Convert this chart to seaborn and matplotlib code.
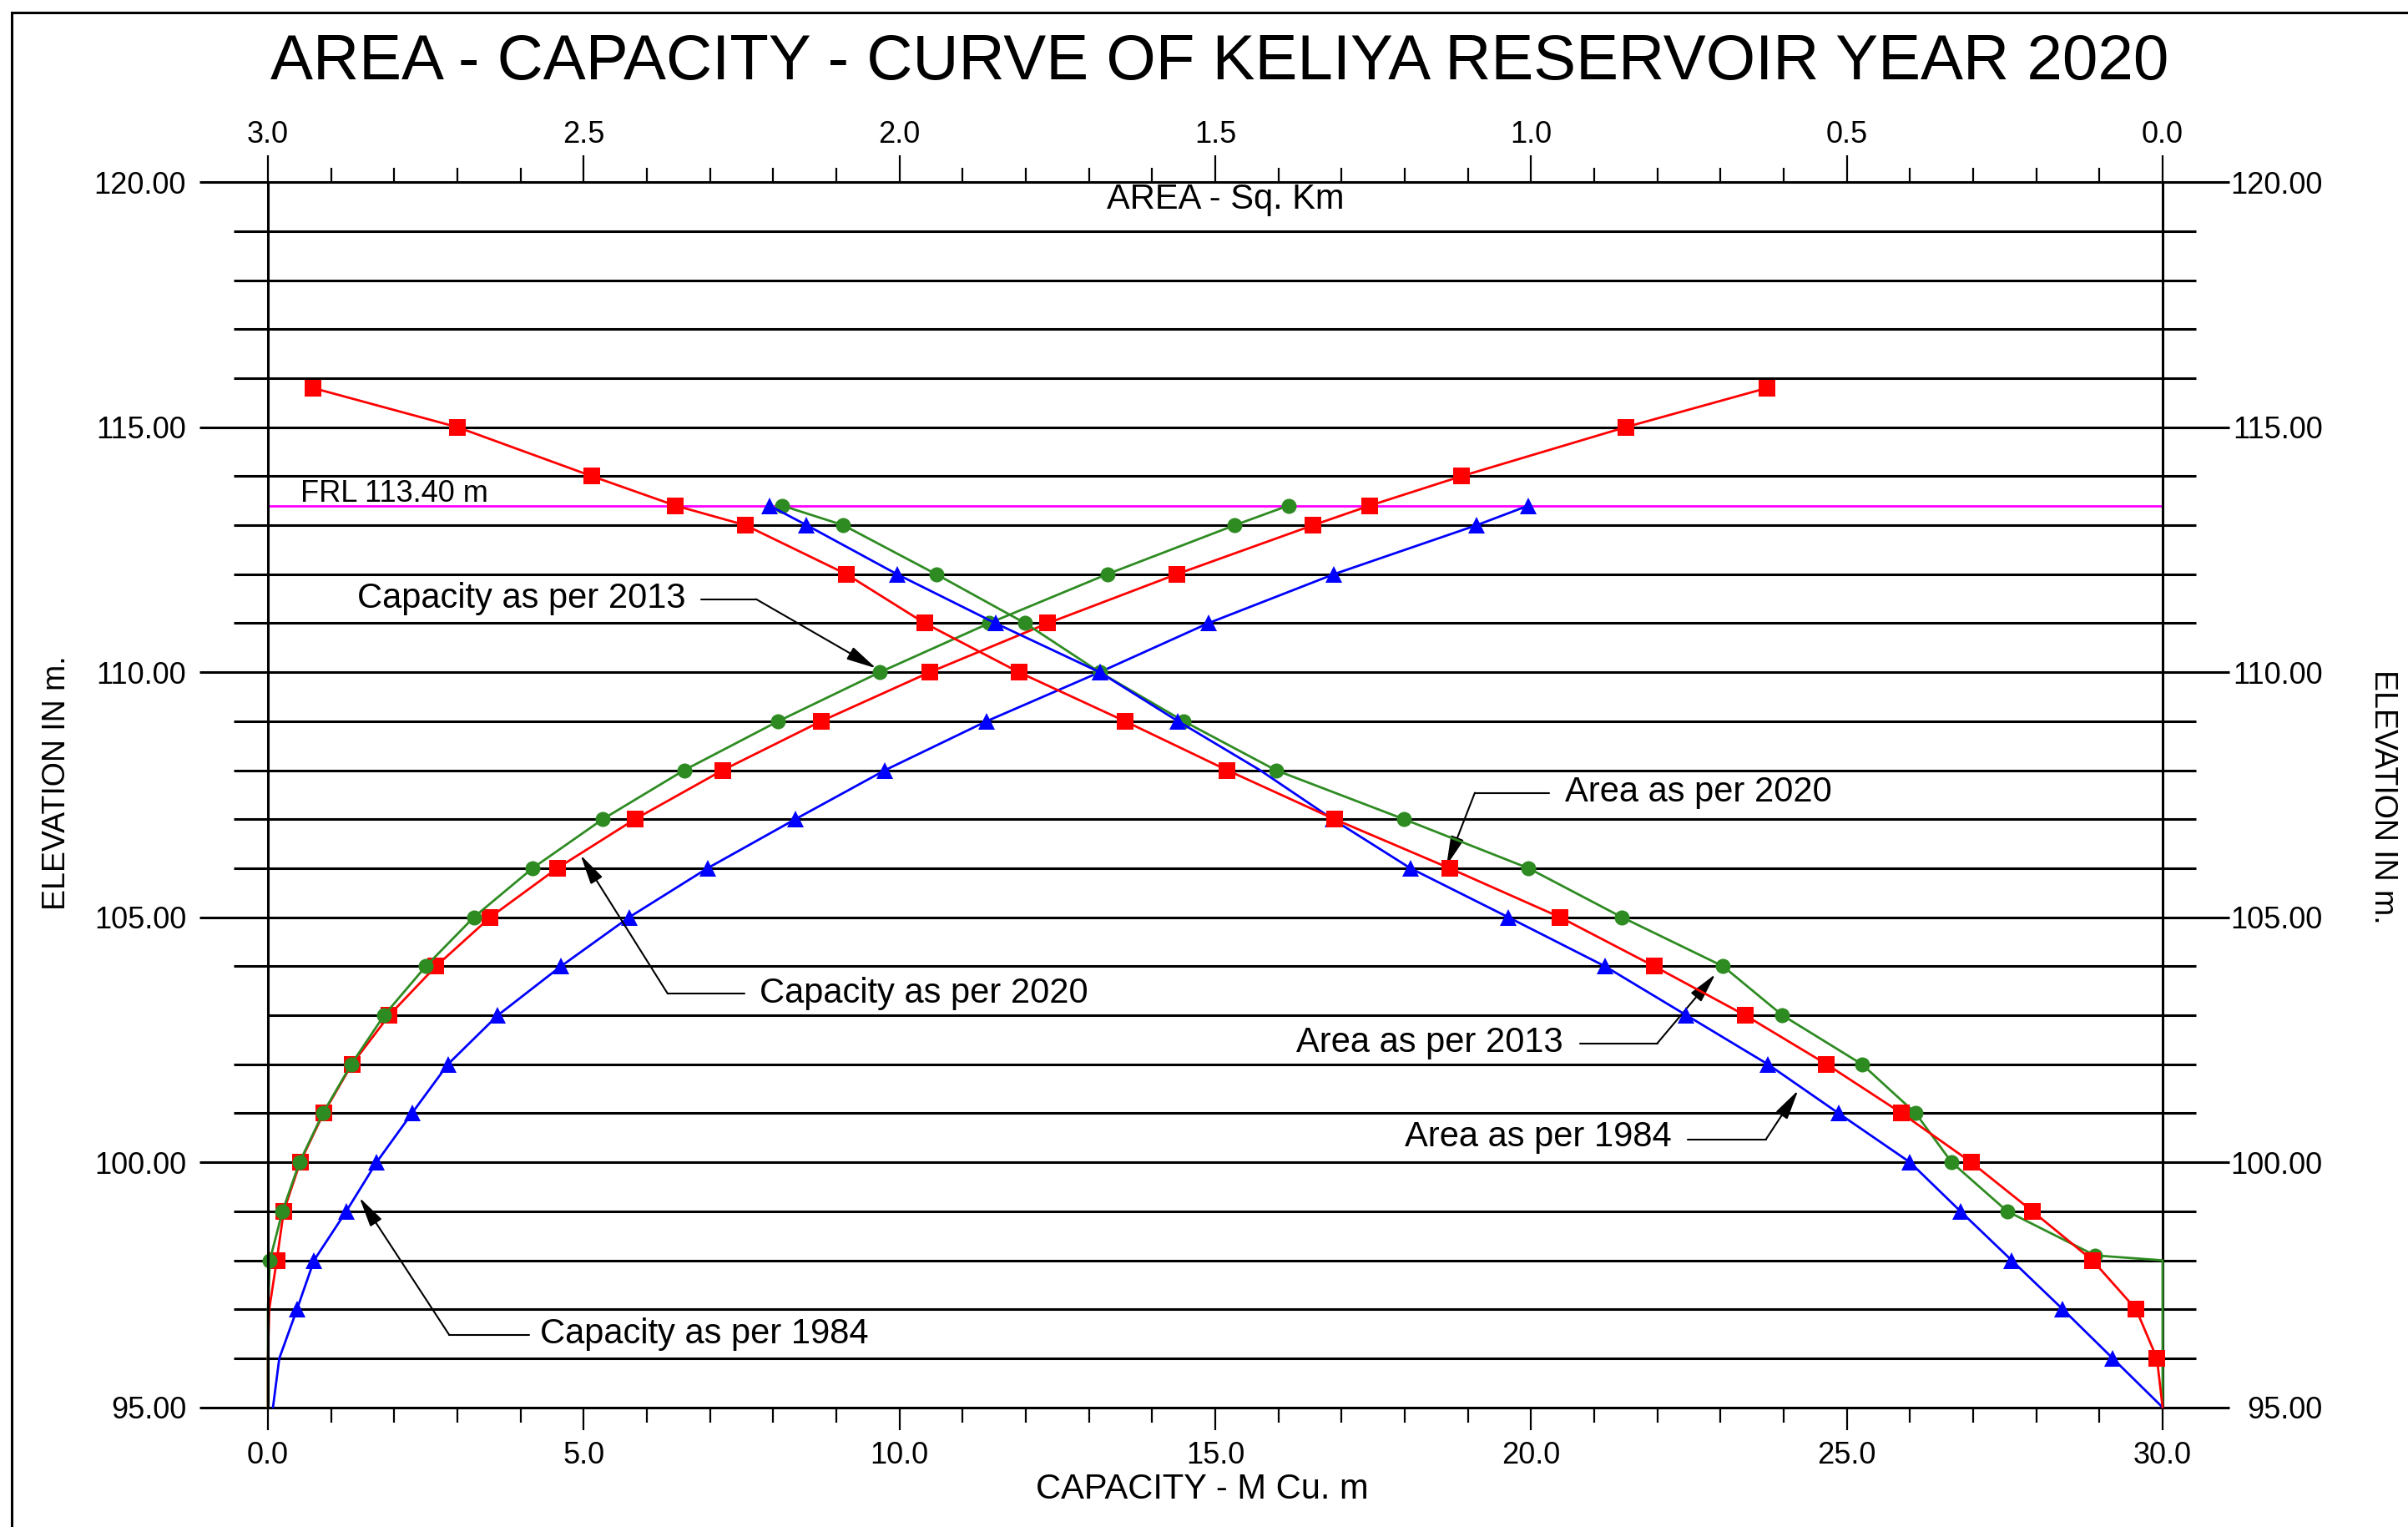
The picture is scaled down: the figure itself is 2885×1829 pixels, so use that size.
import matplotlib
matplotlib.use("Agg")
import matplotlib.pyplot as plt
from matplotlib.patches import Rectangle
from matplotlib.ticker import MultipleLocator, FormatStrFormatter
import pandas as pd
import seaborn as sns

# ---------------------------------------------------------------- data
# 2020 survey (elevation in m, capacity in M cu. m, area in sq. km)
elev_2020 = [95, 96, 97, 98, 99, 100, 101, 102, 103, 104, 105, 106, 107,
             108, 109, 110, 111, 112, 113, 113.4, 114, 115, 115.8]
cap_2020 = [0.00, 0.00, 0.02, 0.14, 0.25, 0.51, 0.88, 1.33, 1.92, 2.66, 3.52,
            4.58, 5.81, 7.20, 8.76, 10.48, 12.35, 14.39, 16.55, 17.45, 18.90,
            21.50, 23.74]
area_2020 = [0.000, 0.009, 0.042, 0.111, 0.206, 0.303, 0.413, 0.532, 0.661,
             0.805, 0.954, 1.129, 1.311, 1.481, 1.643, 1.811, 1.960, 2.084,
             2.244, 2.355, 2.487, 2.700, 2.929]

# 2013 survey
elev_2013 = [95, 96, 97, 98, 99, 100, 101, 102, 103, 104, 105, 106, 107,
             108, 109, 110, 111, 112, 113, 113.4]
cap_2013 = [0.00, 0.00, 0.00, 0.03, 0.23, 0.50, 0.87, 1.32, 1.84, 2.50, 3.26,
            4.19, 5.30, 6.59, 8.08, 9.69, 11.42, 13.29, 15.31, 16.16]
elev_2013_area = [95, 96, 97, 98, 98.1, 99, 100, 101, 102, 103, 104, 105,
                  106, 107, 108, 109, 110, 111, 112, 113, 113.4]
area_2013 = [0.000, 0.000, 0.000, 0.000, 0.107, 0.246, 0.334, 0.391, 0.476,
             0.602, 0.696, 0.856, 1.004, 1.201, 1.404, 1.550, 1.683, 1.801,
             1.942, 2.089, 2.186]

# 1984 survey
elev_1984 = [95, 96, 97, 98, 99, 100, 101, 102, 103, 104, 105, 106, 107,
             108, 109, 110, 111, 112, 113, 113.4]
cap_1984 = [0.08, 0.18, 0.46, 0.73, 1.24, 1.72, 2.28, 2.85, 3.64, 4.64, 5.72,
            6.96, 8.35, 9.77, 11.38, 13.17, 14.89, 16.88, 19.14, 19.96]
area_1984 = [0.000, 0.079, 0.158, 0.239, 0.320, 0.400, 0.513, 0.625, 0.754,
             0.883, 1.036, 1.191, 1.314, 1.429, 1.559, 1.683, 1.848, 2.004,
             2.147, 2.206]

frl = 113.40
elev_ticks = [95, 100, 105, 110, 115, 120]
cap_ticks = [0, 5, 10, 15, 20, 25, 30]
area_ticks = [3.0, 2.5, 2.0, 1.5, 1.0, 0.5, 0.0]

title = "AREA - CAPACITY - CURVE OF KELIYA RESERVOIR YEAR 2020"

# ---------------------------------------------------------------- style
sns.set_theme(style="white")
plt.rcParams["font.family"] = ["Liberation Sans", "DejaVu Sans"]
plt.rcParams.update({
    "axes.edgecolor": "black",
    "xtick.color": "black",
    "ytick.color": "black",
    "text.color": "black",
    "axes.labelcolor": "black",
})

RED, GREEN, BLUE, MAGENTA = "#ff0000", "#2e8b22", "#0000ff", "#ff00ff"
W, H, DPI = 2885, 1829, 100
GRID_LW = 2.2

fig = plt.figure(figsize=(W / DPI, H / DPI), dpi=DPI)
fig.subplots_adjust(left=321 / W, right=2591 / W,
                    bottom=1 - 1685.7 / H, top=1 - 218.1 / H)
ax = fig.add_subplot(111)
ax_top = ax.twiny()
ax_r = ax.twinx()

ylo, yhi = 95, 120
xlo, xhi = 0, 30

# horizontal level lines, labelled levels run out to the tick labels
levels = list(range(ylo, yhi + 1))
xmins, xmaxs = [], []
for lv in levels:
    if lv % 5 == 0:
        xmins.append(-1.09)
        xmaxs.append(31.06)
    else:
        xmins.append(0.0 if lv == 103 else -0.54)
        xmaxs.append(30.53)
ax.hlines(levels, xmins, xmaxs, colors="black", linewidth=GRID_LW,
          clip_on=False, zorder=1)

# full reservoir level
ax.hlines(frl, xlo, xhi, colors=MAGENTA, linewidth=2.0, zorder=1.5)
ax.text(0.52, frl + 0.08, f"FRL {frl:.2f} m", fontsize=26,
        ha="left", va="baseline")


def curve(target, x, y, color, marker, ms, marks):
    df = pd.DataFrame({"x": x, "y": y})
    sns.lineplot(data=df, x="x", y="y", ax=target, sort=False,
                 estimator=None, errorbar=None, color=color, linewidth=2.0,
                 marker=marker, markersize=ms, markevery=marks,
                 markeredgewidth=0, clip_on=False, legend=False)


def marks_from(elev, start, skip=()):
    return [i for i, e in enumerate(elev) if e >= start and e not in skip]


SQ, CI, TR = 14, 13, 14

# capacity curves (bottom axis)
curve(ax, cap_1984, elev_1984, BLUE, "^", TR, marks_from(elev_1984, 97))
curve(ax, cap_2020, elev_2020, RED, "s", SQ, marks_from(elev_2020, 98))
curve(ax, cap_2013, elev_2013, GREEN, "o", CI, marks_from(elev_2013, 98))

# area curves (top axis, reversed)
curve(ax_top, area_2013, elev_2013_area, GREEN, "o", CI,
      marks_from(elev_2013_area, 98.1))
curve(ax_top, area_1984, elev_1984, BLUE, "^", TR,
      marks_from(elev_1984, 96, skip=(108,)))
curve(ax_top, area_2020, elev_2020, RED, "s", SQ, marks_from(elev_2020, 96))

# ---------------------------------------------------------------- axes
ax.set_xlim(xlo, xhi)
ax.set_ylim(ylo, yhi)
ax_top.set_xlim(3.0, 0.0)
ax_r.set_ylim(ylo, yhi)

for a in (ax, ax_top, ax_r):
    a.set_xlabel("")
    a.set_ylabel("")
    a.grid(False)
    for s in a.spines.values():
        s.set_visible(False)
for side in ("left", "right"):
    ax.spines[side].set_visible(True)
    ax.spines[side].set_linewidth(GRID_LW)

# bottom capacity ticks
ax.set_xticks(cap_ticks)
ax.xaxis.set_minor_locator(MultipleLocator(1))
ax.xaxis.set_major_formatter(FormatStrFormatter("%.1f"))
ax.tick_params(axis="x", which="major", direction="out", bottom=True,
               length=19.7, width=1.6, pad=9, labelsize=26)
ax.tick_params(axis="x", which="minor", direction="out", bottom=True,
               length=12.8, width=1.6)

# top area ticks
ax_top.set_xticks(area_ticks)
ax_top.xaxis.set_minor_locator(MultipleLocator(0.1))
ax_top.xaxis.set_major_formatter(FormatStrFormatter("%.1f"))
ax_top.tick_params(axis="x", which="major", direction="out", top=True,
                   length=23, width=1.6, pad=5, labelsize=26)
ax_top.tick_params(axis="x", which="minor", direction="out", top=True,
                   length=12, width=1.6)

# elevation labels on both sides
ax.set_yticks(elev_ticks)
ax.set_yticklabels([f"{v:.2f}" for v in elev_ticks])
ax.tick_params(axis="y", length=0, pad=70.5, labelsize=26, left=False)
ax_r.set_yticks(elev_ticks)
ax_r.set_yticklabels([f"{v:.2f}" for v in elev_ticks])
ax_r.tick_params(axis="y", length=0, pad=138, labelsize=26, right=False)
for lab in ax_r.get_yticklabels():
    lab.set_horizontalalignment("right")

# axis titles
ax.text(15.16, 119.45, "AREA - Sq. Km", fontsize=30, ha="center",
        va="baseline")
fig.text((321 + 14.79 * 75.67) / W, 0.0185, "CAPACITY - M Cu. m",
         fontsize=30, ha="center", va="baseline")
fig.text(0.0236, 0.4874, "ELEVATION IN m.", fontsize=27, rotation=90,
         ha="center", va="center")
fig.text(0.9896, 0.4784, "ELEVATION IN m.", fontsize=27, rotation=270,
         ha="center", va="center")
fig.text(0.5064, 0.948, title, fontsize=55, ha="center", va="baseline")

# ---------------------------------------------------------------- callouts
# (label, text x, text baseline, alignment, leader x0, leader x1, leader y,
#  elbow x, arrow tip)
callouts = [
    ("Capacity as per 2013", 6.61, 111.31, "right", 6.86, 7.73, 111.49,
     7.73, (9.63, 110.08)),
    ("Capacity as per 2020", 7.79, 103.26, "left", 6.33, 7.55, 103.44,
     6.33, (4.95, 106.27)),
    ("Capacity as per 1984", 4.31, 96.31, "left", 2.87, 4.13, 96.48,
     2.87, (1.45, 99.28)),
    ("Area as per 2020", 20.54, 107.36, "left", 19.11, 20.29, 107.54,
     19.11, (18.66, 106.05)),
    ("Area as per 2013", 20.51, 102.25, "right", 20.78, 22.00, 102.43,
     22.00, (22.92, 103.84)),
    ("Area as per 1984", 22.22, 100.33, "right", 22.48, 23.72, 100.47,
     23.72, (24.23, 101.47)),
]
for (label, tx, ty, ha, lx0, lx1, ly, ex, tip) in callouts:
    ax.text(tx, ty, label, fontsize=30, ha=ha, va="baseline", zorder=6)
    ax.plot([lx0, lx1], [ly, ly], color="black", linewidth=1.5, zorder=6)
    ax.annotate("", xy=tip, xytext=(ex, ly),
                arrowprops=dict(arrowstyle="-|>,head_length=1.1,head_width=0.25",
                                mutation_scale=20, color="black",
                                linewidth=1.5, shrinkA=0, shrinkB=0),
                zorder=6)

# outer drawing frame
fig.add_artist(Rectangle((14 / W, -0.1), 2.0, 1.1 - 14.5 / H,
                         transform=fig.transFigure, fill=False,
                         edgecolor="black", linewidth=2.2))

fig.savefig("out.png", dpi=DPI)
